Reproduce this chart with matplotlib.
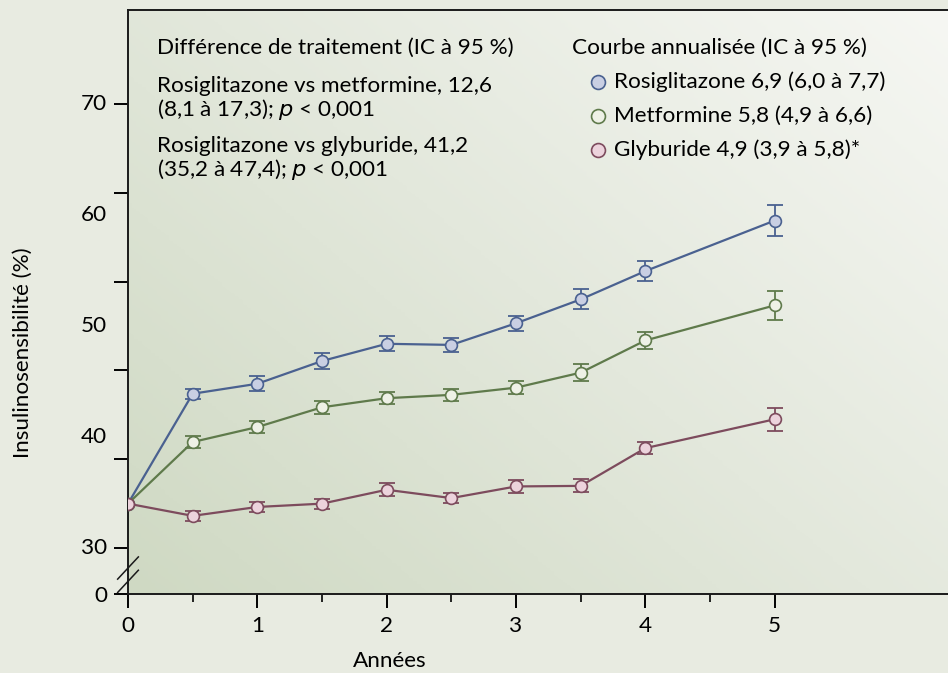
import matplotlib.pyplot as plt
import numpy as np
from matplotlib.colors import LinearSegmentedColormap

plt.rcParams['font.family'] = ['Lato', 'DejaVu Sans']

# Données
annees = [0, 0.5, 1, 1.5, 2, 2.5, 3, 3.5, 4, 5]
rosi = [34.0, 43.9, 44.8, 46.85, 48.4, 48.3, 50.25, 52.4, 54.95, 59.5]
rosi_err = [0, 0.45, 0.69, 0.69, 0.69, 0.65, 0.69, 0.9, 0.9, 1.38]
metf = [34.0, 39.55, 40.9, 42.68, 43.5, 43.8, 44.45, 45.8, 48.7, 51.86]
metf_err = [0, 0.5, 0.5, 0.57, 0.55, 0.55, 0.57, 0.75, 0.78, 1.29]
glyb = [34.0, 32.9, 33.7, 34.0, 35.25, 34.5, 35.55, 35.6, 39.0, 41.6]
glyb_err = [0, 0.45, 0.45, 0.45, 0.59, 0.48, 0.59, 0.59, 0.57, 1.05]

series = [
    (rosi, rosi_err, '#4a6190', '#c9cfe3', 'Rosiglitazone 6,9 (6,0 à 7,7)'),
    (metf, metf_err, '#5f7a4b', '#eef1e6', 'Metformine 5,8 (4,9 à 6,6)'),
    (glyb, glyb_err, '#7d4b5d', '#ecd3dc', 'Glyburide 4,9 (3,9 à 5,8)*'),
]

y_ticks = [30, 38, 46, 54, 62, 70]
y_labels = [30, 40, 50, 60, 70]
x_ticks = [0, 1, 2, 3, 4, 5]
y_zero = 25.86  # position du "0" sous la coupure

fig = plt.figure(figsize=(9.48, 6.73), dpi=100)
fig.patch.set_facecolor('#e8ebe1')
ax = fig.add_axes([128/948, 79/673, 820/948, 584/673])
ax.set_xlim(0, 6.34)
ax.set_ylim(y_zero, 78.47)

# fond dégradé
cmap = LinearSegmentedColormap.from_list('fond', ['#cfd9c3', '#e3e8dc', '#f6f7f3'])
gx, gy = np.meshgrid(np.linspace(0, 1, 200), np.linspace(0, 1, 200))
grad = (gx * 0.55 + gy * 0.45)
ax.imshow(grad, cmap=cmap, extent=[0, 1, 0, 1], transform=ax.transAxes,
          origin='lower', aspect='auto', zorder=0)

for vals, err, c, fc, lab in series:
    ax.errorbar(annees[1:], vals[1:], yerr=err[1:], fmt='none', ecolor=c,
                elinewidth=1.3, capsize=5.5, capthick=1.3, zorder=2)
    ax.plot(annees, vals, color=c, lw=1.6, marker='o', markersize=8.5,
            markerfacecolor=fc, markeredgecolor=c, markeredgewidth=1.2, zorder=3)

ax.spines['right'].set_visible(False)
for s in ['left', 'bottom', 'top']:
    ax.spines[s].set_linewidth(1.4)
    ax.spines[s].set_color('#1a1a1a')

fs = 16.2

ax.set_yticks(y_ticks + [y_zero])
ax.set_yticklabels([''] * len(y_ticks) + ['0'])
ax.tick_params(axis='y', length=10, width=1.4, labelsize=fs, pad=5)
# étiquettes de l'axe y (décalées des graduations comme sur l'original)
for v in y_labels:
    ax.annotate(str(v), xy=(0, v), xycoords=('axes fraction', 'data'),
                xytext=(-21, 0), textcoords='offset pixels',
                ha='right', va='center', fontsize=fs)

ax.set_xticks(x_ticks)
ax.set_xticks([0.5, 1.5, 2.5, 3.5, 4.5], minor=True)
ax.tick_params(axis='x', which='major', length=10, width=1.4, labelsize=fs, pad=6)
ax.tick_params(axis='x', which='minor', length=6, width=1.2)

# coupure de l'axe
for dy in (0, 1.2):
    ax.plot([-0.08, 0.08], [27.0 + dy - 1.0, 27.0 + dy + 1.0], color='#1a1a1a',
            lw=1.1, clip_on=False, zorder=5)

fig.text(390/948, 1 - 661/673, 'Années', fontsize=fs, ha='center', va='center')
fig.text(23/948, 1 - 353/673, 'Insulinosensibilité (%)', rotation=90,
         fontsize=fs, ha='center', va='center')

# textes
fig.text(157/948, 1 - 48/673, 'Différence de traitement (IC à 95 %)', fontsize=fs, va='center')
fig.text(157/948, 1 - 86/673, 'Rosiglitazone vs metformine, 12,6', fontsize=fs, va='center')
fig.text(157/948, 1 - 110/673, '(8,1 à 17,3); $\\it{p}$ < 0,001', fontsize=fs, va='center')
fig.text(157/948, 1 - 146/673, 'Rosiglitazone vs glyburide, 41,2', fontsize=fs, va='center')
fig.text(157/948, 1 - 170/673, '(35,2 à 47,4); $\\it{p}$ < 0,001', fontsize=fs, va='center')

fig.text(572/948, 1 - 48/673, 'Courbe annualisée (IC à 95 %)', fontsize=fs, va='center')
for i, (vals, err, c, fc, lab) in enumerate(series):
    yy = 1 - (82 + 34 * i) / 673
    fig.lines.append(plt.Line2D([598/948], [yy], marker='o', markersize=10,
                                markerfacecolor=fc, markeredgecolor=c,
                                markeredgewidth=1.2, transform=fig.transFigure))
    fig.text(614/948, yy, lab, fontsize=fs, va='center')

fig.savefig('out.png', dpi=100, facecolor=fig.get_facecolor())
